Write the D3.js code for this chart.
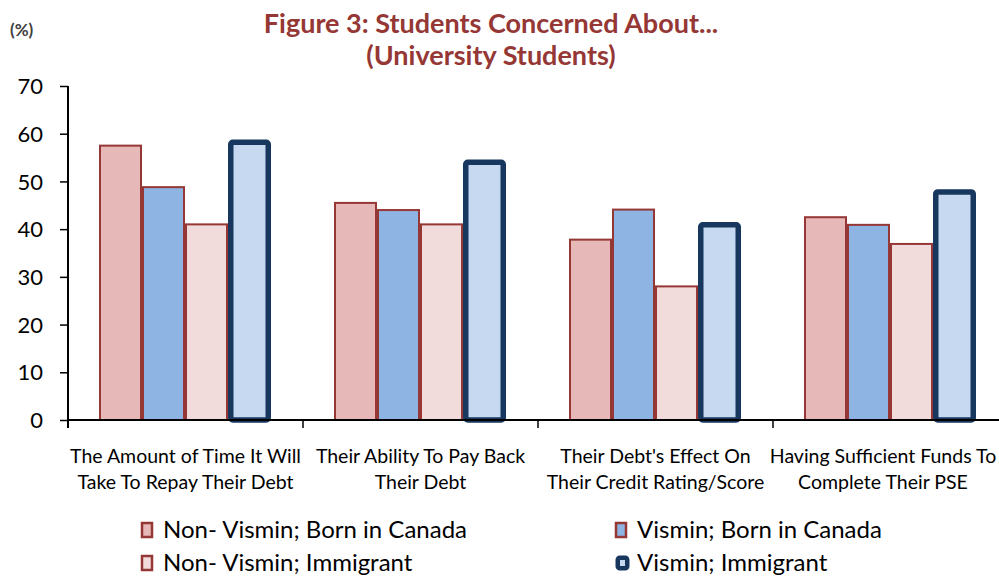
<!DOCTYPE html>
<html>
<head>
<meta charset="utf-8">
<script src="https://cdn.jsdelivr.net/npm/d3@7"></script>
<style>
	body { margin: 0; background: #fff; }
	svg text { font-family: Lato, 'Open Sans', sans-serif; }
</style>
</head>
<body>
<script>
// chart data
var categories = [
	['The Amount of Time It Will', 'Take To Repay Their Debt'],
	['Their Ability To Pay Back', 'Their Debt'],
	['Their Debt\'s Effect On', 'Their Credit Rating/Score'],
	['Having Sufficient Funds To', 'Complete Their PSE']
];
var seriesNames = ['Non- Vismin; Born in Canada', 'Vismin; Born in Canada', 'Non- Vismin; Immigrant', 'Vismin; Immigrant'];
var nonVisminBorn = [57.5, 45.5, 37.8, 42.5];
var visminBorn = [48.8, 44.0, 44.1, 40.9];
var nonVisminImm = [41.0, 41.0, 28.0, 36.9];
var visminImm = [58.2, 54.0, 40.9, 47.8];
var yTicks = [0, 10, 20, 30, 40, 50, 60, 70];

var seriesValues = [nonVisminBorn, visminBorn, nonVisminImm, visminImm];
var fills = ['#e6b9b8', '#8eb4e3', '#f2dcdb', '#c6d9f1'];
var strokes = ['#953735', '#953735', '#953735', '#17375e'];
var strokeWidths = [2, 2, 2, 5.5];

var width = 999, height = 580;
var plot = { left: 68, right: 1008, top: 86, bottom: 420 };

var svg = d3.select('body').append('svg')
	.attr('width', width)
	.attr('height', height);

var x0 = d3.scaleBand()
	.domain(d3.range(categories.length))
	.range([plot.left, plot.right])
	.paddingInner(0)
	.paddingOuter(0);

var x1 = d3.scaleBand()
	.domain(d3.range(seriesNames.length))
	.range([31, x0.bandwidth() - 32]);

var y = d3.scaleLinear()
	.domain([0, 70])
	.range([plot.bottom, plot.top]);

// title
svg.append('text')
	.attr('x', 491).attr('y', 33)
	.attr('text-anchor', 'middle')
	.style('font-size', '27px').style('font-weight', 'bold')
	.style('fill', '#953735')
	.text('Figure 3: Students Concerned About...');
svg.append('text')
	.attr('x', 491).attr('y', 65)
	.attr('text-anchor', 'middle')
	.style('font-size', '27px').style('font-weight', 'bold')
	.style('fill', '#953735')
	.text('(University Students)');
svg.append('text')
	.attr('x', 10).attr('y', 36)
	.style('font-size', '17px').style('font-weight', 'bold')
	.style('fill', '#404040')
	.text('(%)');

// bars
var groups = svg.selectAll('.group')
	.data(categories)
	.enter().append('g')
		.attr('class', 'group')
		.attr('transform', function(d, i) { return 'translate(' + x0(i) + ',0)'; });

groups.selectAll('rect')
	.data(function(d, i) {
		return seriesValues.map(function(s, j) { return { s: j, v: s[i] }; });
	})
	.enter().append('rect')
		.attr('x', function(d) { return x1(d.s) + strokeWidths[d.s] / 2; })
		.attr('y', function(d) { return y(d.v); })
		.attr('width', function(d) { return x1.bandwidth() - strokeWidths[d.s]; })
		.attr('height', function(d) { return y(0) - y(d.v); })
		.style('fill', function(d) { return fills[d.s]; })
		.style('stroke', function(d) { return strokes[d.s]; })
		.style('stroke-width', function(d) { return strokeWidths[d.s]; })
		.attr('rx', function(d) { return d.s === 3 ? 2 : 0; });

// y axis
var yAxis = d3.axisLeft(y)
	.tickValues(yTicks)
	.tickSize(8)
	.tickSizeOuter(0)
	.tickPadding(17);

var yg = svg.append('g')
	.attr('transform', 'translate(' + plot.left + ',0)')
	.call(yAxis);
yg.select('.domain').attr('d', 'M0,' + plot.top + 'V' + (plot.bottom + 8)).style('stroke', '#000').style('stroke-width', 2);
yg.selectAll('.tick line').style('stroke', '#000').style('stroke-width', 1.5);
yg.selectAll('.tick text')
	.style('font-size', '22px')
	.style('fill', '#000')
	.attr('dy', '0.35em');

// x axis
svg.append('line')
	.attr('x1', plot.left).attr('x2', plot.right)
	.attr('y1', y(0)).attr('y2', y(0))
	.style('stroke', '#000').style('stroke-width', 2);

svg.selectAll('.cat-tick')
	.data(d3.range(1, categories.length))
	.enter().append('line')
		.attr('class', 'cat-tick')
		.attr('x1', function(d) { return x0(d); })
		.attr('x2', function(d) { return x0(d); })
		.attr('y1', y(0)).attr('y2', y(0) + 8)
		.style('stroke', '#000').style('stroke-width', 1.5);

var catLabels = svg.selectAll('.cat-label')
	.data(categories)
	.enter().append('text')
		.attr('class', 'cat-label')
		.attr('text-anchor', 'middle')
		.style('font-size', '19.5px')
		.style('fill', '#000');
catLabels.each(function(d, i) {
	var t = d3.select(this);
	var cx = Math.min(x0(i) + x0.bandwidth() / 2, 883);
	d.forEach(function(line, k) {
		t.append('tspan')
			.attr('x', cx)
			.attr('y', 463 + k * 26)
			.text(line);
	});
});

// legend
var legendPos = [[141, 530], [615, 530], [141, 563], [615, 563]];
var legend = svg.selectAll('.legend')
	.data(seriesNames)
	.enter().append('g')
		.attr('class', 'legend')
		.attr('transform', function(d, i) { return 'translate(' + legendPos[i][0] + ',' + legendPos[i][1] + ')'; });

legend.append('rect')
	.attr('x', function(d, i) { return strokeWidths[i] / 2; })
	.attr('y', function(d, i) { return -7 + strokeWidths[i] / 2 - 1; })
	.attr('width', function(d, i) { return 12 - strokeWidths[i] + (i === 3 ? 3 : 0); })
	.attr('height', function(d, i) { return 16 - strokeWidths[i]; })
	.attr('rx', function(d, i) { return i === 3 ? 2 : 0; })
	.style('fill', function(d, i) { return fills[i]; })
	.style('stroke', function(d, i) { return strokes[i]; })
	.style('stroke-width', function(d, i) { return i === 3 ? 4.5 : 2.5; });

legend.append('text')
	.attr('x', 22)
	.attr('y', 0)
	.attr('dy', '0.35em')
	.style('font-size', '24px')
	.style('fill', '#000')
	.text(function(d) { return d; });
</script>
</body>
</html>
